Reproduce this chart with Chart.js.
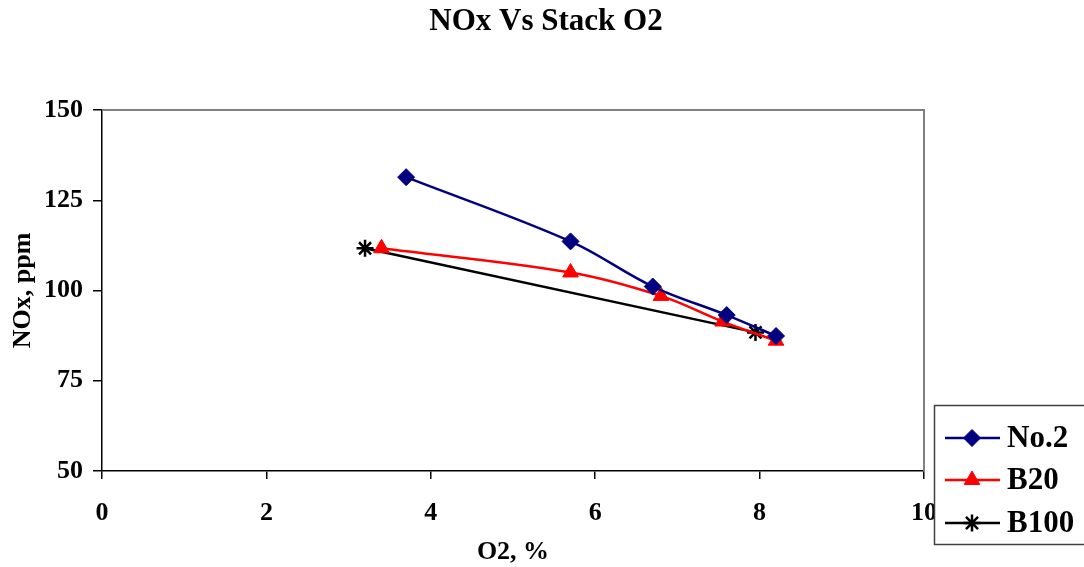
<!DOCTYPE html>
<html>
<head>
<meta charset="utf-8">
<title>NOx Vs Stack O2</title>
<script src="https://cdn.jsdelivr.net/npm/chart.js@4/dist/chart.umd.min.js"></script>
<style>
  html, body { margin: 0; padding: 0; background: #ffffff; }
  #wrap { width: 1084px; height: 567px; position: relative; }
</style>
</head>
<body>
<div id="wrap"><canvas id="chart" width="1084" height="567"></canvas></div>
<script>
// Stack O2 (%) and NOx (ppm) readings per fuel
const no2O2    = [3.7, 5.7, 6.7, 7.6, 8.2];
const no2NOx   = [131.4, 113.6, 101.1, 93.2, 87.4];
const b20O2    = [3.4, 5.7, 6.8, 7.55, 8.2];
const b20NOx   = [111.7, 105.0, 98.5, 91.4, 86.1];
const b100O2   = [3.2, 7.95];
const b100NOx  = [111.7, 88.4];

const seriesNames = ['No.2', 'B20', 'B100'];
const xTicks = [0, 2, 4, 6, 8, 10];
const yTicks = [50, 75, 100, 125, 150];
const chartTitle = 'NOx Vs Stack O2';

const FONT = "'Liberation Serif', 'Times New Roman', serif";

function pairs(xs, ys) {
  return xs.map((x, i) => ({ x: x, y: ys[i] }));
}

const datasets = [
  {
    label: seriesNames[0],
    data: pairs(no2O2, no2NOx),
    borderColor: '#000080',
    backgroundColor: '#000080',
    pointStyle: 'rectRot',
    pointRadius: 8.5,
    pointBorderWidth: 1,
    borderWidth: 2.5,
    tension: 0.35
  },
  {
    label: seriesNames[1],
    data: pairs(b20O2, b20NOx),
    borderColor: '#ff0000',
    backgroundColor: '#ff0000',
    pointStyle: 'triangle',
    pointRadius: 9,
    pointBorderWidth: 1,
    borderWidth: 2.5,
    tension: 0.35
  },
  {
    label: seriesNames[2],
    data: pairs(b100O2, b100NOx),
    borderColor: '#000000',
    backgroundColor: '#000000',
    pointStyle: 'star',
    pointRadius: 8.5,
    pointBorderWidth: 2.5,
    borderWidth: 2.5,
    tension: 0
  }
];

// Chart heading, centred across the whole canvas
const heading = {
  id: 'heading',
  afterDraw(chart) {
    const { ctx } = chart;
    ctx.save();
    ctx.fillStyle = '#000000';
    ctx.font = "bold 31px " + FONT;
    ctx.textAlign = 'center';
    ctx.textBaseline = 'middle';
    ctx.fillText(chartTitle, chart.width / 2 + 4, 22);
    ctx.restore();
  }
};

// Grey frame on the top and right edges of the plot area
const plotFrame = {
  id: 'plotFrame',
  afterDatasetsDraw(chart) {
    const { ctx, chartArea: a } = chart;
    ctx.save();
    ctx.strokeStyle = '#808080';
    ctx.lineWidth = 2;
    ctx.beginPath();
    ctx.moveTo(a.left, a.top);
    ctx.lineTo(a.right, a.top);
    ctx.lineTo(a.right, a.bottom);
    ctx.stroke();
    ctx.restore();
  }
};

// Boxed legend sitting to the lower right of the plot area
const boxLegend = {
  id: 'boxLegend',
  afterDraw(chart) {
    const { ctx } = chart;
    const left = 934.5, top = 405.5, width = 200, height = 139;
    const rows = [438, 480, 523];
    ctx.save();
    ctx.fillStyle = '#ffffff';
    ctx.fillRect(left, top, width, height);
    ctx.strokeStyle = '#404040';
    ctx.lineWidth = 1.5;
    ctx.strokeRect(left, top, width, height);
    chart.data.datasets.forEach((ds, i) => {
      const y = rows[i];
      ctx.strokeStyle = ds.borderColor;
      ctx.lineWidth = 2.5;
      ctx.beginPath();
      ctx.moveTo(945, y);
      ctx.lineTo(1000, y);
      ctx.stroke();
      const opts = {
        pointStyle: ds.pointStyle,
        radius: ds.pointRadius,
        borderWidth: ds.pointBorderWidth,
        rotation: 0
      };
      ctx.fillStyle = ds.backgroundColor;
      ctx.strokeStyle = ds.borderColor;
      ctx.lineWidth = ds.pointBorderWidth;
      Chart.helpers.drawPoint(ctx, opts, 972, y);
      ctx.fillStyle = '#000000';
      ctx.font = "bold 31px " + FONT;
      ctx.textAlign = 'left';
      ctx.textBaseline = 'middle';
      ctx.fillText(ds.label, 1007, y + 1);
    });
    ctx.restore();
  }
};

new Chart(document.getElementById('chart'), {
  type: 'line',
  data: { datasets: datasets },
  options: {
    responsive: false,
    animation: false,
    devicePixelRatio: 1,
    layout: { padding: { left: 0, right: 160, top: 110, bottom: 0 } },
    plugins: {
      legend: { display: false },
      tooltip: { enabled: false },
      title: { display: false }
    },
    scales: {
      x: {
        type: 'linear',
        min: 0,
        max: 10,
        afterBuildTicks(scale) { scale.ticks = xTicks.map(v => ({ value: v })); },
        afterFit(scale) { scale.height = 96; },
        ticks: {
          color: '#000000',
          font: { family: FONT, size: 26, weight: 'bold' },
          padding: 19,
          maxRotation: 0
        },
        grid: {
          drawOnChartArea: false,
          drawTicks: true,
          tickLength: 8,
          color: '#000000',
          lineWidth: 1.5
        },
        border: { display: true, color: '#000000', width: 1.5 },
        title: {
          display: true,
          text: 'O2, %',
          color: '#000000',
          font: { family: FONT, size: 26, weight: 'bold' },
          padding: { top: 0, bottom: -1 }
        }
      },
      y: {
        type: 'linear',
        min: 50,
        max: 150,
        afterBuildTicks(scale) { scale.ticks = yTicks.map(v => ({ value: v })); },
        afterFit(scale) { scale.width = 102; },
        ticks: {
          color: '#000000',
          font: { family: FONT, size: 26, weight: 'bold' },
          padding: 10
        },
        grid: {
          drawOnChartArea: false,
          drawTicks: true,
          tickLength: 9,
          color: '#000000',
          lineWidth: 1.5
        },
        border: { display: true, color: '#000000', width: 1.5 },
        title: {
          display: true,
          text: 'NOx, ppm',
          color: '#000000',
          font: { family: FONT, size: 26, weight: 'bold' },
          padding: { top: 8, bottom: 0 }
        }
      }
    }
  },
  plugins: [heading, plotFrame, boxLegend]
});
</script>
</body>
</html>
